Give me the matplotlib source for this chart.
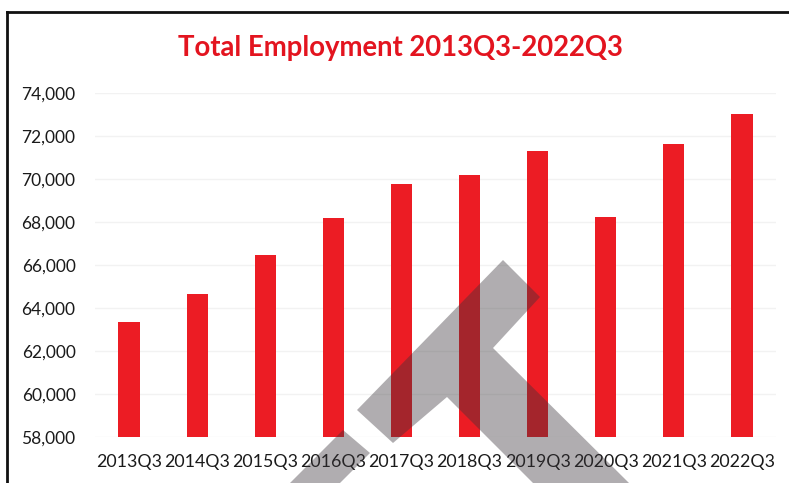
import matplotlib
matplotlib.use("Agg")
import matplotlib.pyplot as plt
from matplotlib.patches import Polygon
from matplotlib.lines import Line2D
from matplotlib.ticker import FuncFormatter

categories = ["2013Q3", "2014Q3", "2015Q3", "2016Q3", "2017Q3",
              "2018Q3", "2019Q3", "2020Q3", "2021Q3", "2022Q3"]
employment = [63350, 64640, 66450, 68180, 69770,
              70170, 71290, 68220, 71630, 73020]
y_ticks = [58000, 60000, 62000, 64000, 66000, 68000, 70000, 72000, 74000]
title = "Total Employment 2013Q3-2022Q3"
baseline = 58000

plt.rcParams['font.family'] = ['Lato', 'DejaVu Sans']

W, H = 789, 483
fig = plt.figure(figsize=(W / 100, H / 100), dpi=100)
ax = fig.add_axes([95 / W, 1 - 437 / H, (776 - 95) / W, (437 - 93) / H])

x = list(range(len(categories)))
heights = [v - baseline for v in employment]
ax.bar(x, heights, bottom=baseline, width=0.31, color="#ec1c24", zorder=2)

ax.set_xlim(-0.5, len(categories) - 0.5)
ax.set_ylim(58000, 74000)
ax.set_yticks(y_ticks)
ax.yaxis.set_major_formatter(FuncFormatter(lambda v, p: f"{int(v):,}"))
ax.set_xticks(x)
ax.set_xticklabels(categories)
ax.tick_params(axis='y', length=0, pad=14, labelsize=12.5, labelcolor="#1a1a1a")
ax.tick_params(axis='x', length=0, pad=12, labelsize=12.8, labelcolor="#1a1a1a")
for s in ax.spines.values():
    s.set_visible(False)
ax.grid(axis='y', color="#f2f2f2", linewidth=1, zorder=0)
ax.set_axisbelow(True)

fig.text(400 / W, 1 - 48 / H, title, ha='center', va='center',
         fontsize=19.8, fontweight='bold', color="#e3141f")

# frame of the scanned chart box
fig.add_artist(Line2D([7 / W, 1.0], [1 - 12 / H, 1 - 12 / H], transform=fig.transFigure,
                      color="#111111", linewidth=2))
fig.add_artist(Line2D([7 / W, 7 / W], [1 - 12 / H, 0.0], transform=fig.transFigure,
                      color="#111111", linewidth=2))

# grey watermark overlay from the scan
def px(pts):
    return [(a / W, 1 - b / H) for a, b in pts]

shape1 = px([(503, 260), (540, 297), (493, 348), (629, 483), (533, 483),
             (447, 397), (393, 443), (357, 410)])
shape2 = px([(343, 430), (370, 453), (340, 483), (290, 483)])
for shp in (shape1, shape2):
    fig.add_artist(Polygon(shp, closed=True, transform=fig.transFigure,
                           facecolor="#3a343a", alpha=0.4, edgecolor='none', zorder=5))

fig.savefig("out.png", dpi=100)
